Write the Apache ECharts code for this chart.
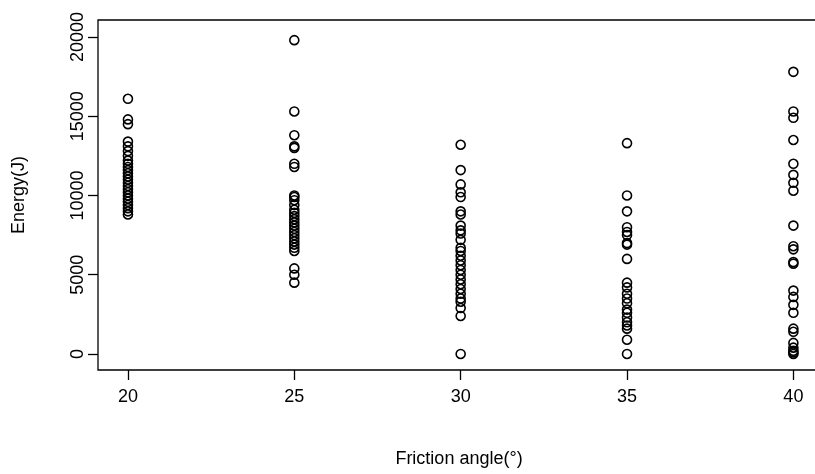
<!DOCTYPE html>
<html lang="en">
<head>
    <meta charset="UTF-8">
    <title>friction angle vs energy</title>
    <script type="text/javascript" src="https://cdn.jsdelivr.net/npm/echarts@6/dist/echarts.min.js"></script>
</head>
<body style="margin:0">
    <div id="main" style="width: 815px; height: 474px;"></div>
    <script type="text/javascript">
        // values
        var angles = [20, 25, 30, 35, 40];
        var energy20 = [16100, 14800, 14500, 13400, 13100, 12800, 12500, 12200, 12000, 11800, 11600, 11400,
            11200, 11000, 10800, 10600, 10400, 10200, 10000, 9800, 9600, 9400, 9200, 9000, 8800];
        var energy25 = [19800, 15300, 13800, 13100, 13000, 12000, 11800, 10000, 9900, 9700, 9400, 9100, 8900,
            8700, 8500, 8300, 8100, 7900, 7700, 7500, 7300, 7100, 6900, 6700, 6500, 5400, 5000, 4500];
        var energy30 = [13200, 11600, 10700, 10200, 9900, 9000, 8800, 8100, 7800, 7600, 7200, 6700, 6500, 6200,
            5900, 5600, 5300, 5000, 4700, 4400, 4100, 3800, 3500, 3300, 2900, 2400, 0];
        var energy35 = [13300, 10000, 9000, 8000, 7700, 7500, 7000, 6900, 6000, 4500, 4200, 3800, 3500, 3200,
            2800, 2600, 2300, 2000, 1800, 1600, 900, 0];
        var energy40 = [17800, 15300, 14900, 13500, 12000, 11300, 10800, 10300, 8100, 6800, 6600, 5800, 5700,
            4000, 3600, 3100, 2600, 1600, 1400, 700, 400, 200, 100, 0];
        var xTicks = [20, 25, 30, 35, 40];
        var yTicks = [0, 5000, 10000, 15000, 20000];

        var groups = [energy20, energy25, energy30, energy35, energy40];
        var points = [];
        for (var i = 0; i < angles.length; i++) {
            for (var j = 0; j < groups[i].length; j++) {
                points.push([angles[i], groups[i][j]]);
            }
        }

        var font = 'Liberation Sans, Arial, sans-serif';
        var myChart = echarts.init(document.getElementById('main'));
        myChart.setOption({
            animation: false,
            grid: {
                left: 98, top: 20, right: -5, bottom: 104,
                outerBoundsMode: 'none',
                show: true, borderColor: '#000', borderWidth: 1.3, backgroundColor: '#fff'
            },
            xAxis: {
                type: 'value', min: 19.1, max: 40.8,
                name: 'Friction angle(°)', nameLocation: 'middle', nameGap: 80,
                nameTextStyle: { color: '#000', fontSize: 18, fontFamily: font },
                axisLine: { show: false, onZero: false },
                splitLine: { show: false },
                axisTick: { show: true, customValues: xTicks, length: 10, inside: false, lineStyle: { color: '#000', width: 1.3 } },
                axisLabel: { customValues: xTicks, color: '#000', fontSize: 18, fontFamily: font, margin: 18 }
            },
            yAxis: {
                type: 'value', min: -1010, max: 21070,
                name: 'Energy(J)', nameLocation: 'middle', nameGap: 70, nameRotate: 90,
                nameTextStyle: { color: '#000', fontSize: 18, fontFamily: font },
                axisLine: { show: false, onZero: false },
                splitLine: { show: false },
                axisTick: { show: true, customValues: yTicks, length: 10, inside: false, lineStyle: { color: '#000', width: 1.3 } },
                axisLabel: {
                    customValues: yTicks, color: '#000', fontSize: 18, fontFamily: font, rotate: 90, margin: 11,
                    formatter: function (v) { return String(v); }
                }
            },
            series: [{
                type: 'scatter',
                data: points,
                symbol: 'circle',
                symbolSize: 9,
                itemStyle: { color: 'rgba(0,0,0,0)', borderColor: '#000', borderWidth: 1.6, opacity: 1 }
            }]
        });
    </script>
</body>
</html>
